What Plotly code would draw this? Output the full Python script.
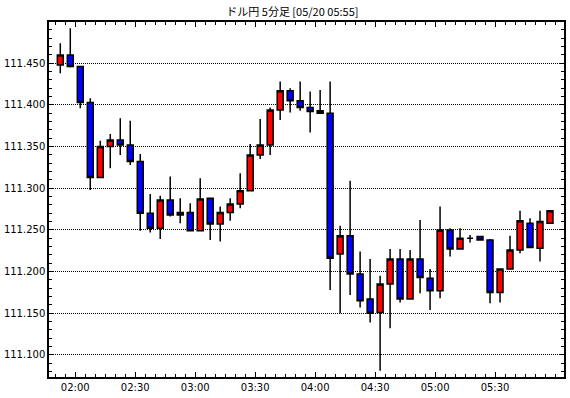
import plotly.graph_objects as go

times = ["01:50", "01:55", "02:00", "02:05", "02:10", "02:15", "02:20", "02:25", "02:30", "02:35",
         "02:40", "02:45", "02:50", "02:55", "03:00", "03:05", "03:10", "03:15", "03:20", "03:25",
         "03:30", "03:35", "03:40", "03:45", "03:50", "03:55", "04:00", "04:05", "04:10", "04:15",
         "04:20", "04:25", "04:30", "04:35", "04:40", "04:45", "04:50", "04:55", "05:00", "05:05",
         "05:10", "05:15", "05:20", "05:25", "05:30", "05:35", "05:40", "05:45", "05:50", "05:55"]

opens = [111.448, 111.460, 111.446, 111.403, 111.313, 111.350, 111.358, 111.352, 111.332, 111.270,
         111.252, 111.286, 111.268, 111.271, 111.249, 111.288, 111.257, 111.271, 111.281, 111.297,
         111.340, 111.352, 111.394, 111.417, 111.405, 111.397, 111.393, 111.390, 111.221, 111.243,
         111.197, 111.167, 111.151, 111.185, 111.215, 111.167, 111.215, 111.192, 111.177, 111.250,
         111.227, 111.240, 111.242, 111.238, 111.175, 111.203, 111.226, 111.258, 111.228, 111.258]
highs = [111.474, 111.492, 111.446, 111.408, 111.357, 111.365, 111.384, 111.381, 111.341, 111.293,
         111.291, 111.314, 111.288, 111.282, 111.312, 111.288, 111.278, 111.288, 111.318, 111.353,
         111.383, 111.397, 111.428, 111.420, 111.428, 111.416, 111.418, 111.428, 111.255, 111.309,
         111.224, 111.215, 111.195, 111.227, 111.227, 111.226, 111.262, 111.203, 111.278, 111.252,
         111.252, 111.244, 111.243, 111.239, 111.204, 111.243, 111.273, 111.264, 111.273, 111.274]
lows = [111.438, 111.445, 111.396, 111.298, 111.313, 111.324, 111.340, 111.328, 111.249, 111.247,
        111.239, 111.266, 111.258, 111.248, 111.249, 111.238, 111.236, 111.261, 111.276, 111.297,
        111.335, 111.340, 111.382, 111.391, 111.393, 111.367, 111.389, 111.178, 111.150, 111.172,
        111.157, 111.139, 111.081, 111.132, 111.163, 111.167, 111.174, 111.154, 111.168, 111.218,
        111.227, 111.235, 111.237, 111.162, 111.163, 111.203, 111.222, 111.228, 111.212, 111.257]
closes = [111.460, 111.446, 111.403, 111.313, 111.350, 111.358, 111.352, 111.332, 111.270, 111.252,
          111.286, 111.268, 111.271, 111.249, 111.287, 111.257, 111.271, 111.281, 111.297, 111.340,
          111.352, 111.394, 111.417, 111.405, 111.397, 111.392, 111.390, 111.216, 111.243, 111.197,
          111.165, 111.150, 111.185, 111.215, 111.167, 111.215, 111.193, 111.177, 111.250, 111.227,
          111.240, 111.240, 111.238, 111.175, 111.203, 111.226, 111.261, 111.229, 111.260, 111.273]

tick_labels = ["02:00", "02:30", "03:00", "03:30", "04:00", "04:30", "05:00", "05:30"]
price_ticks = [111.100, 111.150, 111.200, 111.250, 111.300, 111.350, 111.400, 111.450]
title_text = "ドル円 5分足 [05/20 05:55]"

xs = list(range(len(times)))
tickvals = [times.index(t) - 0.5 for t in tick_labels]

fig = go.Figure(go.Candlestick(
    x=xs, open=opens, high=highs, low=lows, close=closes,
    increasing=dict(fillcolor="#ff0000", line=dict(color="black", width=1.5)),
    decreasing=dict(fillcolor="#0000ff", line=dict(color="black", width=1.5)),
    whiskerwidth=0, hoverinfo="skip",
))

font = dict(family="DejaVu Sans", size=10, color="black")

fig.update_layout(
    width=570, height=398,
    margin=dict(l=49, r=6, t=22, b=21, autoexpand=False),
    paper_bgcolor="white", plot_bgcolor="white",
    showlegend=False,
    boxgap=0.15,
    title=dict(text=title_text, x=0.513, xref="container", xanchor="center",
               y=1 - 12.5 / 398, yref="container", yanchor="middle",
               font=dict(family="Noto Sans CJK JP", size=11, color="black")),
    font=font,
)

fig.update_xaxes(
    range=[-1.13, 50.4], rangeslider_visible=False, automargin=False,
    tickmode="array", tickvals=tickvals, ticktext=tick_labels,
    ticks="inside", ticklen=5, tickwidth=1, tickcolor="black",
    showline=True, linecolor="black", linewidth=1.5, mirror="ticks",
    showgrid=False, zeroline=False,
    minor=dict(tickmode="linear", tick0=-0.5, dtick=1, ticks="inside", ticklen=3,
               tickcolor="black", tickwidth=1, showgrid=False),
    tickfont=font,
)

fig.update_yaxes(
    range=[111.0735, 111.4995], automargin=False,
    tickmode="array", tickvals=price_ticks, ticktext=[f"{v:.3f}" for v in price_ticks],
    ticks="inside", ticklen=5, tickwidth=1, tickcolor="black",
    showline=True, linecolor="black", linewidth=1.5, mirror="ticks",
    showgrid=True, gridcolor="black", gridwidth=1, griddash="1px,1px",
    zeroline=False,
    minor=dict(tickmode="linear", tick0=111.1, dtick=0.01, ticks="inside", ticklen=3,
               tickcolor="black", tickwidth=1, showgrid=False),
    tickfont=font,
)

fig.write_html("out.html", config={"displayModeBar": False},
               post_script="document.body.style.margin='0';")
